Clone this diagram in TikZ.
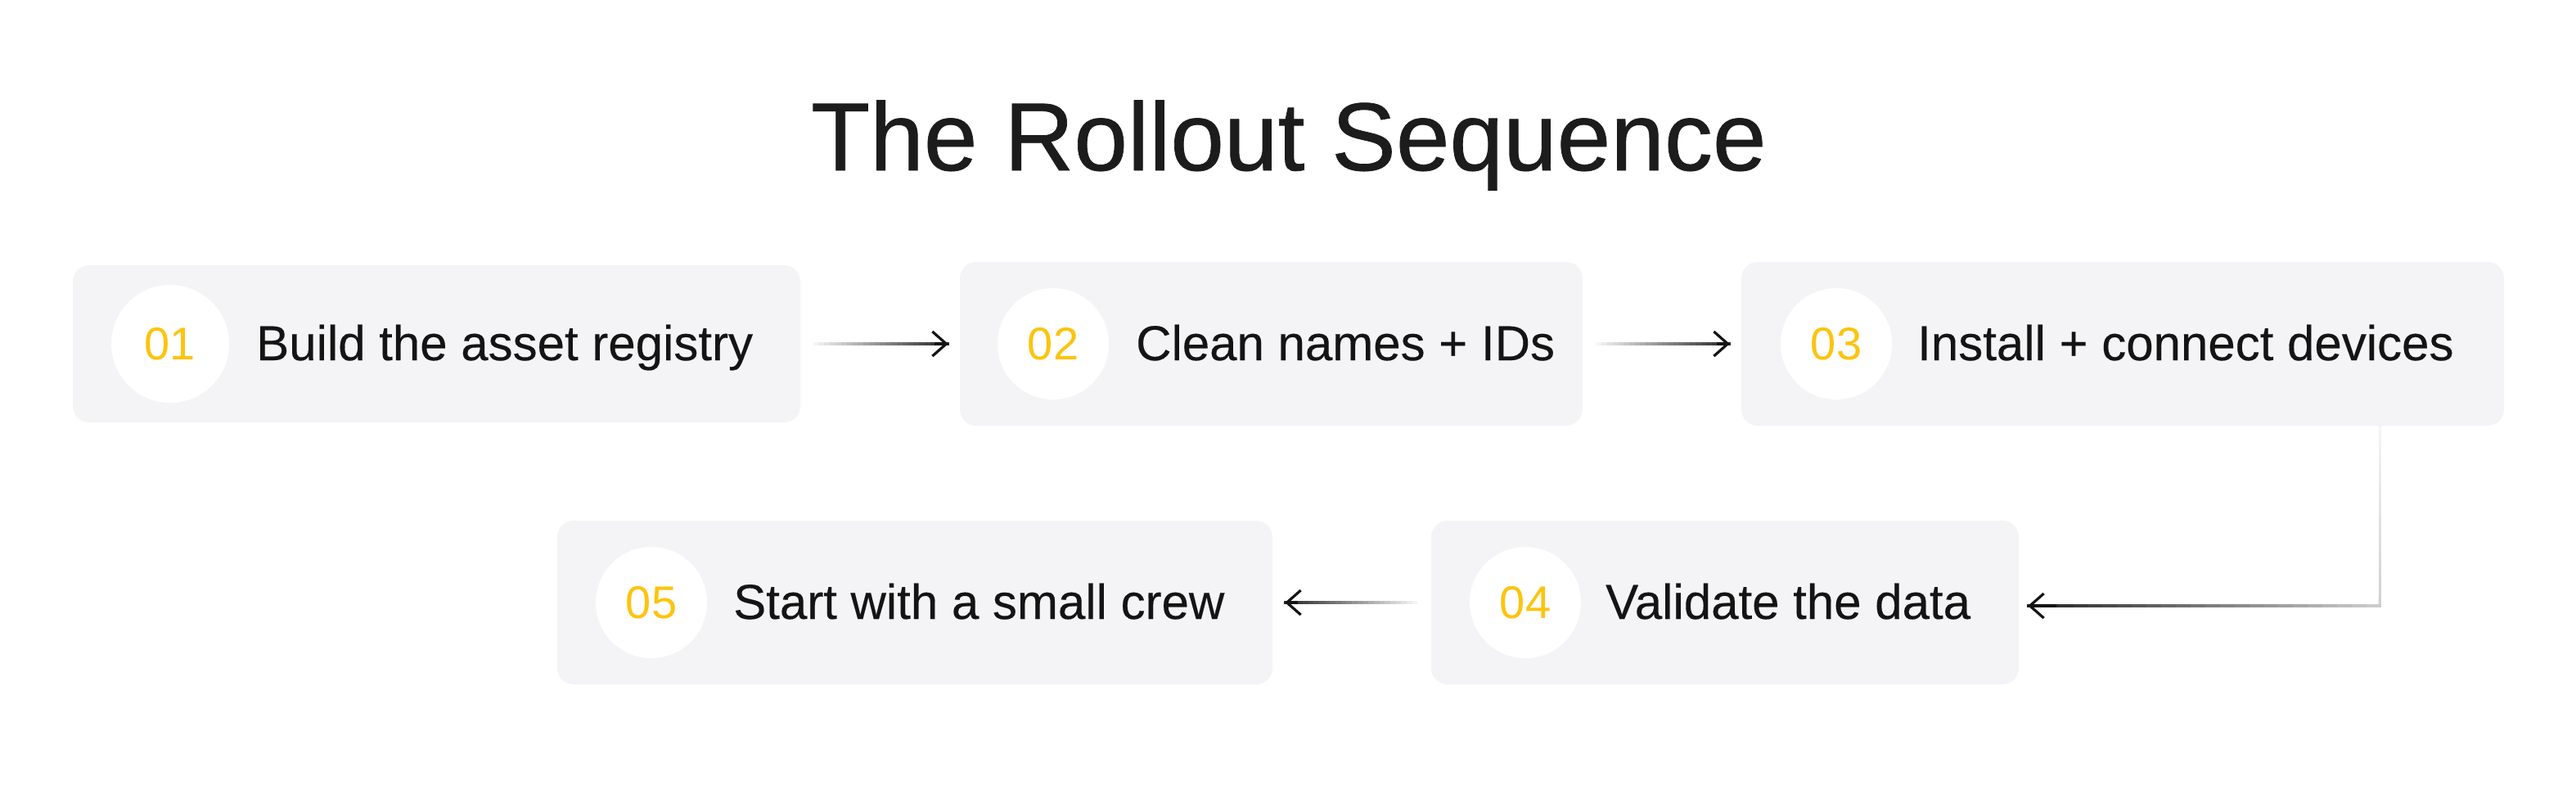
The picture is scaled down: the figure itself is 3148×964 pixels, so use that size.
\documentclass[tikz,border=0pt]{standalone}
\usepackage{fontspec}
\setmainfont{Liberation Sans}
\newfontfamily\titlefont[FakeBold=0.6]{Liberation Sans}
\newfontfamily\labelfont[FakeBold=0.25]{Liberation Sans}
\usetikzlibrary{arrows.meta,calc}
\definecolor{boxgray}{HTML}{F4F4F6}
\definecolor{numyellow}{HTML}{FCC40F}
\definecolor{ink}{HTML}{141414}
\definecolor{titleink}{HTML}{1C1C1C}
\newcommand\gradseg[4]{%
  \foreach \i in {1,...,24}{%
    \pgfmathsetmacro\ta{(\i-1)/24}%
    \pgfmathsetmacro\tb{\i/24}%
    \pgfmathsetmacro\pc{#3+(#4-#3)*(\i-0.5)/24}%
    \draw[flowseg, draw=ink!\pc] ($(#1)!\ta!(#2)$) -- ($(#1)!\tb!(#2)$);}}
\begin{document}
\begin{tikzpicture}[x=1pt,y=-1pt,
  stepbox/.style={rectangle, rounded corners=20pt, fill=boxgray, inner sep=0pt, minimum height=200pt},
  numdisc/.style={circle, fill=white, inner sep=0pt, minimum size=136pt},
  numlabel/.style={anchor=base, inner sep=0pt, text=numyellow, font=\fontsize{56}{60}\selectfont},
  steplabel/.style={anchor=base west, inner sep=0pt, text=ink, font=\labelfont\fontsize{60}{64}\selectfont},
  flowseg/.style={line width=3.2pt, line cap=rect},
  flowtip/.style={line width=3.2pt, draw=ink, -{Straight Barb[length=17pt,width=30pt]}}]
\useasboundingbox (0,0) rectangle (3148,964);
\fill[white] (0,0) rectangle (3148,964);

% title
\node (title) [anchor=base, inner sep=0pt, text=titleink, font=\titlefont\fontsize{118}{122}\selectfont] at (1575,208) {The Rollout Sequence};

% boxes
\node (b1) [stepbox, minimum width=889pt, minimum height=192pt] at (533.5,420) {};
\node (b2) [stepbox, minimum width=761pt] at (1553.5,420) {};
\node (b3) [stepbox, minimum width=932pt] at (2594,420) {};
\node (b4) [stepbox, minimum width=718pt] at (2108,736) {};
\node (b5) [stepbox, minimum width=874pt] at (1118,736) {};

% number discs
\node (d1) [numdisc, minimum size=144pt] at (208,420) {};
\node (d2) [numdisc] at (1287,420) {};
\node (d3) [numdisc] at (2244,420) {};
\node (d4) [numdisc] at (1864,736) {};
\node (d5) [numdisc] at (796,736) {};

% numbers
\node (n1) [numlabel] at (208,439) {01};
\node (n2) [numlabel] at (1287,439) {02};
\node (n3) [numlabel] at (2244,439) {03};
\node (n4) [numlabel] at (1864,755) {04};
\node (n5) [numlabel] at (796,755) {05};

% labels
\node (t1) [steplabel] at (313,440) {Build the asset registry};
\node (t2) [steplabel] at (1388,440) {Clean names + IDs};
\node (t3) [steplabel] at (2343,440) {Install + connect devices};
\node (t4) [steplabel] at (1962,756) {Validate the data};
\node (t5) [steplabel] at (896,756) {Start with a small crew};

% connector 1 -> 2
\coordinate (a12s) at ([xshift=17pt]b1.east);
\coordinate (a12e) at ([xshift=-14pt]b2.west);
\gradseg{a12s}{a12e}{3}{92}
\draw[flowtip] ($(a12s)!0.9!(a12e)$) -- (a12e);

% connector 2 -> 3
\coordinate (a23s) at ([xshift=18pt]b2.east);
\coordinate (a23e) at ([xshift=-14pt]b3.west);
\gradseg{a23s}{a23e}{3}{92}
\draw[flowtip] ($(a23s)!0.9!(a23e)$) -- (a23e);

% connector 3 -> 4 (elbow)
\coordinate (a34s) at ([xshift=-152pt]b3.south east);
\coordinate (a34e) at ([xshift=11pt,yshift=-4pt]b4.east);
\coordinate (a34k) at (a34s |- a34e);
\gradseg{a34s}{a34k}{4}{20}
\gradseg{a34k}{a34e}{20}{94}
\draw[flowtip] ($(a34k)!0.92!(a34e)$) -- (a34e);

% connector 4 -> 5
\coordinate (a45s) at ([xshift=-18pt]b4.west);
\coordinate (a45e) at ([xshift=15pt]b5.east);
\gradseg{a45s}{a45e}{3}{92}
\draw[flowtip] ($(a45s)!0.9!(a45e)$) -- (a45e);
\end{tikzpicture}
\end{document}
